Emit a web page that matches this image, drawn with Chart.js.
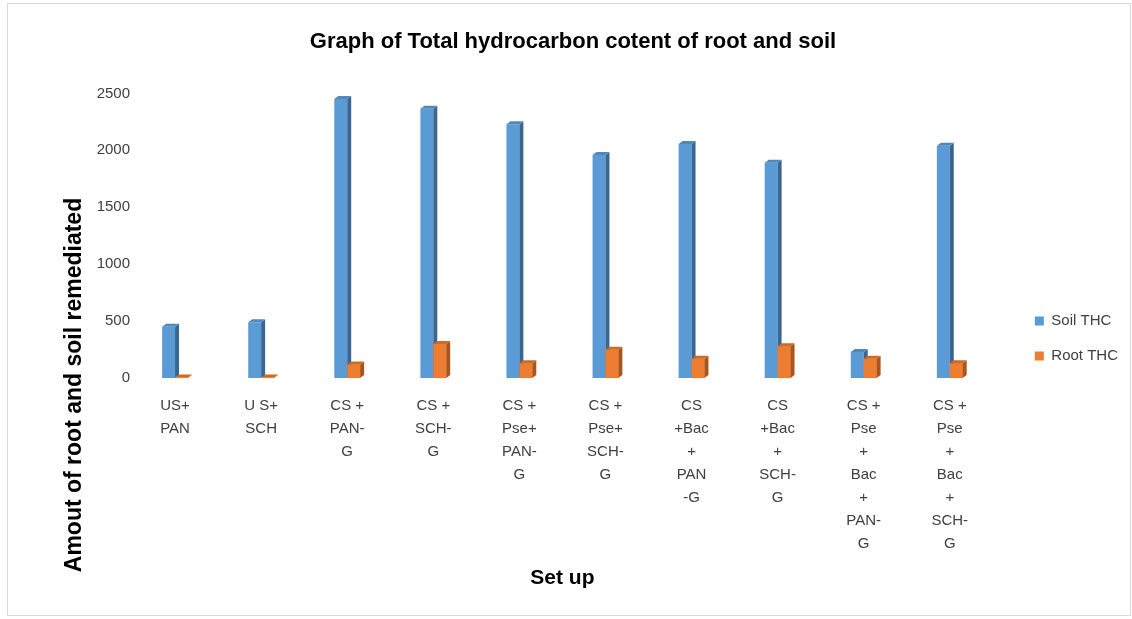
<!DOCTYPE html>
<html>
<head>
<meta charset="utf-8">
<script src="https://cdn.jsdelivr.net/npm/chart.js@4"></script>
<style>
  html, body { margin: 0; padding: 0; background: #fff; }
  #wrap {
    position: absolute; left: 7px; top: 3px; width: 1124px; height: 613px;
    border: 1px solid #d9d9d9; box-sizing: border-box;
  }
  canvas { display: block; }
</style>
</head>
<body>
<div id="wrap"><canvas id="thcChart" width="1122" height="611"></canvas></div>
<script>
// categories (multi-line tick labels)
const setups = [
  ['US+', 'PAN'],
  ['U S+', 'SCH'],
  ['CS +', 'PAN-', 'G'],
  ['CS +', 'SCH-', 'G'],
  ['CS +', 'Pse+', 'PAN-', 'G'],
  ['CS +', 'Pse+', 'SCH-', 'G'],
  ['CS', '+Bac', '+', 'PAN', '-G'],
  ['CS', '+Bac', '+', 'SCH-', 'G'],
  ['CS +', 'Pse', '+', 'Bac', '+', 'PAN-', 'G'],
  ['CS +', 'Pse', '+', 'Bac', '+', 'SCH-', 'G']
];

const soilTHC = [450, 490, 2450, 2365, 2230, 1960, 2055, 1890, 230, 2040];
const rootTHC = [5, 5, 120, 300, 130, 250, 170, 280, 170, 130];

const yTicks = [0, 500, 1000, 1500, 2000, 2500];

const FONT = "'Liberation Sans', Arial, sans-serif";
const Y_TITLE = 'Amout of root and soil remediated';

// excel-like 3d columns: side + top faces, orange drawn over blue
function drawFaces(ctx, el, ds, front) {
  const dx = 4, dy = 3;
  const p = el.getProps(['x', 'y', 'base', 'width'], true);
  const left = p.x - p.width / 2;
  const right = p.x + p.width / 2;
  if (front) {
    ctx.fillStyle = ds.backgroundColor;
    ctx.fillRect(left, p.y, p.width, p.base - p.y);
  }
  ctx.fillStyle = ds.sideColor;
  ctx.beginPath();
  ctx.moveTo(right, p.y);
  ctx.lineTo(right + dx, p.y - dy);
  ctx.lineTo(right + dx, p.base - dy);
  ctx.lineTo(right, p.base);
  ctx.closePath();
  ctx.fill();
  ctx.fillStyle = ds.topColor;
  ctx.beginPath();
  ctx.moveTo(left, p.y);
  ctx.lineTo(left + dx, p.y - dy);
  ctx.lineTo(right + dx, p.y - dy);
  ctx.lineTo(right, p.y);
  ctx.closePath();
  ctx.fill();
}

const bar3d = {
  id: 'bar3d',
  afterDatasetsDraw(chart) {
    const ctx = chart.ctx;
    ctx.save();
    chart.data.datasets.forEach((ds, i) => {
      chart.getDatasetMeta(i).data.forEach(el => drawFaces(ctx, el, ds, i > 0));
    });
    ctx.restore();
  }
};

// y title sits lower than the axis middle in the original
const yTitle = {
  id: 'yTitle',
  afterDraw(chart) {
    const ctx = chart.ctx;
    ctx.save();
    ctx.translate(67, 381);
    ctx.rotate(-Math.PI / 2);
    ctx.font = 'bold 23px ' + FONT;
    ctx.fillStyle = '#000';
    ctx.textAlign = 'center';
    ctx.textBaseline = 'middle';
    ctx.fillText(Y_TITLE, 0, 0);
    ctx.restore();
  }
};

const ctx = document.getElementById('thcChart').getContext('2d');

new Chart(ctx, {
  type: 'bar',
  data: {
    labels: setups,
    datasets: [{
      label: 'Soil THC',
      data: soilTHC,
      backgroundColor: '#5b9bd5',
      sideColor: '#3a6792',
      topColor: '#4f88bc'
    }, {
      label: 'Root THC',
      data: rootTHC,
      backgroundColor: '#ed7d31',
      sideColor: '#a9561e',
      topColor: '#cf6a26'
    }]
  },
  options: {
    responsive: false,
    animation: false,
    layout: { padding: { left: 10, right: 2, top: 0, bottom: 20 } },
    datasets: {
      bar: { categoryPercentage: 0.3, barPercentage: 1.0 }
    },
    plugins: {
      title: {
        display: true,
        text: 'Graph of Total hydrocarbon cotent of root and soil',
        color: '#000',
        font: { family: FONT, size: 22, weight: 'bold' },
        padding: { top: 25, bottom: 38 }
      },
      legend: {
        position: 'right',
        align: 'center',
        title: {
          display: true,
          text: ' ',
          font: { family: FONT, size: 15 },
          padding: { top: 60, bottom: 0 }
        },
        labels: {
          boxWidth: 9,
          boxHeight: 9,
          padding: 20,
          color: '#404040',
          font: { family: FONT, size: 15 }
        }
      },
      tooltip: { enabled: false }
    },
    scales: {
      x: {
        grid: { display: false },
        border: { display: false },
        ticks: {
          maxRotation: 0,
          autoSkip: false,
          color: '#404040',
          font: { family: FONT, size: 15, lineHeight: 1.54 },
          padding: 8
        },
        title: {
          display: true,
          text: 'Set up',
          color: '#000',
          font: { family: FONT, size: 21, weight: 'bold' },
          padding: { top: 2 }
        }
      },
      y: {
        min: 0,
        max: 2500,
        afterBuildTicks(axis) {
          axis.ticks = yTicks.map(v => ({ value: v }));
        },
        afterFit(axis) { axis.width = 114; },
        grid: { display: false },
        border: { display: false },
        ticks: {
          color: '#404040',
          font: { family: FONT, size: 15 },
          padding: -6,
          callback: v => String(v)
        }
      },
      // empty spacer between plot and legend
      gap: {
        type: 'linear',
        position: 'right',
        display: true,
        grid: { display: false },
        border: { display: false },
        ticks: { display: false },
        afterFit(axis) { axis.width = 22; }
      }
    }
  },
  plugins: [bar3d, yTitle]
});
</script>
</body>
</html>
